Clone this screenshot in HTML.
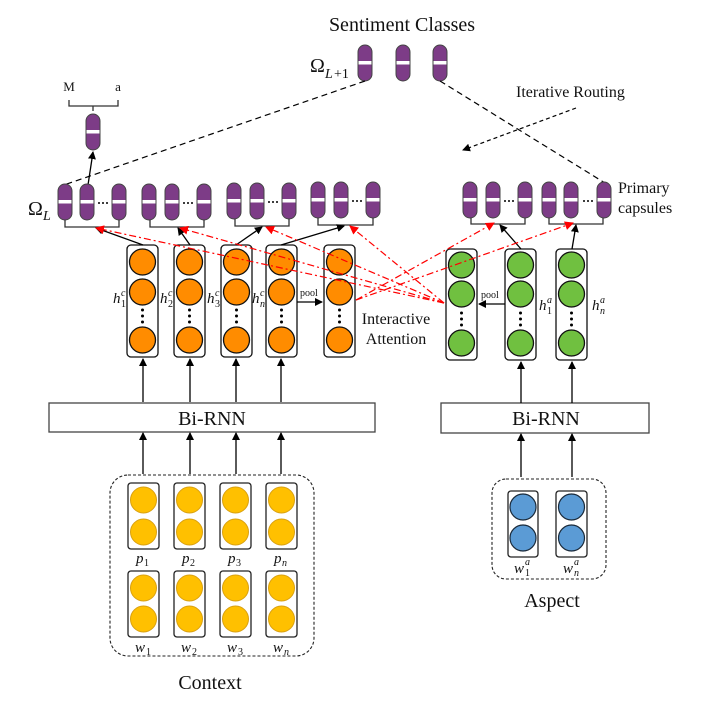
<!DOCTYPE html>
<html><head><meta charset="utf-8"><style>
html,body{margin:0;padding:0;background:#fff}
svg{display:block}
text{font-family:"Liberation Serif",serif;fill:#111}
.it{font-style:italic}
</style></head><body>
<svg width="722" height="701" viewBox="0 0 722 701" xmlns="http://www.w3.org/2000/svg">
<defs>
<marker id="ah" markerWidth="8" markerHeight="8" refX="7" refY="4" orient="auto" markerUnits="userSpaceOnUse"><path d="M0,0 L8,4 L0,8 z" fill="#000"/></marker>
<marker id="rh" markerWidth="9" markerHeight="9" refX="8" refY="4.5" orient="auto" markerUnits="userSpaceOnUse"><path d="M0,0 L9,4.5 L0,9 z" fill="#f00"/></marker>
<g id="cap"><rect x="0" y="0" width="14" height="36" rx="7" fill="#7D3C87" stroke="#444" stroke-width="1"/><rect x="0.5" y="16" width="13" height="3.5" fill="#fff"/></g>
<g id="dots" fill="#000"><circle cx="0" cy="0" r="1.5"/><circle cx="0" cy="6" r="1.5"/><circle cx="0" cy="12" r="1.5"/></g>
<g id="hd" fill="#000"><circle cx="0" cy="0" r="1"/><circle cx="4" cy="0" r="1"/><circle cx="8" cy="0" r="1"/></g>
</defs>

<!-- Top -->
<text x="402" y="31" font-size="20" text-anchor="middle">Sentiment Classes</text>
<text x="310" y="72" font-size="20">Ω</text><text x="325" y="78" font-size="14" class="it">L</text><text x="334" y="78" font-size="14">+1</text>
<use href="#cap" x="358" y="45"/><use href="#cap" x="396" y="45"/><use href="#cap" x="433" y="45"/>

<text x="69" y="91" font-size="13" text-anchor="middle">M</text>
<text x="118" y="91" font-size="13" text-anchor="middle">a</text>
<path d="M69,100 V106 H118 V100 M93,106 V111" fill="none" stroke="#333" stroke-width="1.3"/>
<use href="#cap" x="86" y="114"/>
<line x1="88" y1="185" x2="93" y2="152" stroke="#000" stroke-width="1.3" marker-end="url(#ah)"/>

<line x1="365" y1="81" x2="64" y2="185" stroke="#000" stroke-width="1.2" stroke-dasharray="6,4"/>
<line x1="440" y1="81" x2="605" y2="183" stroke="#000" stroke-width="1.2" stroke-dasharray="6,4"/>
<text x="516" y="97" font-size="16">Iterative Routing</text>
<line x1="576" y1="108" x2="463" y2="150" stroke="#000" stroke-width="1.2" stroke-dasharray="4,3" marker-end="url(#ah)"/>

<!-- Omega L -->
<text x="28" y="215" font-size="20">Ω</text><text x="43" y="220" font-size="14" class="it">L</text>
<g>
<use href="#cap" x="58" y="184"/><use href="#cap" x="80" y="184"/><use href="#cap" x="112" y="184"/>
<use href="#cap" x="142" y="184"/><use href="#cap" x="165" y="184"/><use href="#cap" x="197" y="184"/>
<use href="#cap" x="227" y="183"/><use href="#cap" x="250" y="183"/><use href="#cap" x="282" y="183"/>
<use href="#cap" x="311" y="182"/><use href="#cap" x="334" y="182"/><use href="#cap" x="366" y="182"/>
<use href="#cap" x="463" y="182"/><use href="#cap" x="486" y="182"/><use href="#cap" x="518" y="182"/>
<use href="#cap" x="542" y="182"/><use href="#cap" x="564" y="182"/><use href="#cap" x="597" y="182"/>
</g>
<use href="#hd" x="99" y="203"/><use href="#hd" x="184" y="203"/><use href="#hd" x="269" y="202"/><use href="#hd" x="353" y="201"/>
<use href="#hd" x="505" y="201"/><use href="#hd" x="584" y="201"/>
<g fill="none" stroke="#333" stroke-width="1.3">
<path d="M65,220 V227 H119 V220"/><path d="M150,220 V227 H204 V220"/>
<path d="M235,219 V226 H289 V219"/><path d="M318,218 V225 H373 V218"/>
<path d="M471,218 V224 H525 V218"/><path d="M549,218 V224 H603 V218"/>
</g>
<text x="618" y="193" font-size="16">Primary</text>
<text x="618" y="213" font-size="16">capsules</text>

<!-- columns -->
<g stroke="#111" stroke-width="1.3">
<g fill="none">
<rect x="127" y="245" width="31" height="112" rx="4"/><rect x="174" y="245" width="31" height="112" rx="4"/>
<rect x="221" y="245" width="31" height="112" rx="4"/><rect x="266" y="245" width="31" height="112" rx="4"/>
<rect x="324" y="245" width="31" height="112" rx="4"/>
<rect x="446" y="249" width="31" height="111" rx="4"/><rect x="505" y="249" width="31" height="111" rx="4"/>
<rect x="556" y="249" width="31" height="111" rx="4"/>
</g>
<g fill="#FF8C00">
<circle cx="142.5" cy="262" r="13"/><circle cx="142.5" cy="292" r="13"/><circle cx="142.5" cy="340" r="13"/>
<circle cx="189.5" cy="262" r="13"/><circle cx="189.5" cy="292" r="13"/><circle cx="189.5" cy="340" r="13"/>
<circle cx="236.5" cy="262" r="13"/><circle cx="236.5" cy="292" r="13"/><circle cx="236.5" cy="340" r="13"/>
<circle cx="281.5" cy="262" r="13"/><circle cx="281.5" cy="292" r="13"/><circle cx="281.5" cy="340" r="13"/>
<circle cx="339.5" cy="262" r="13"/><circle cx="339.5" cy="292" r="13"/><circle cx="339.5" cy="340" r="13"/>
</g>
<g fill="#70C040">
<circle cx="461.5" cy="265" r="13"/><circle cx="461.5" cy="294" r="13"/><circle cx="461.5" cy="343" r="13"/>
<circle cx="520.5" cy="265" r="13"/><circle cx="520.5" cy="294" r="13"/><circle cx="520.5" cy="343" r="13"/>
<circle cx="571.5" cy="265" r="13"/><circle cx="571.5" cy="294" r="13"/><circle cx="571.5" cy="343" r="13"/>
</g>
</g>
<use href="#dots" x="142.5" y="310"/><use href="#dots" x="189.5" y="310"/><use href="#dots" x="236.5" y="310"/>
<use href="#dots" x="281.5" y="310"/><use href="#dots" x="339.5" y="310"/>
<use href="#dots" x="461.5" y="313"/><use href="#dots" x="520.5" y="313"/><use href="#dots" x="571.5" y="313"/>
<g font-size="15" class="it">
<text x="113" y="303">h</text><text x="121" y="296" font-size="10">c</text><text x="121" y="307" font-size="10" font-style="normal">1</text>
<text x="160" y="303">h</text><text x="168" y="296" font-size="10">c</text><text x="168" y="307" font-size="10" font-style="normal">2</text>
<text x="207" y="303">h</text><text x="215" y="296" font-size="10">c</text><text x="215" y="307" font-size="10" font-style="normal">3</text>
<text x="252" y="303">h</text><text x="260" y="296" font-size="10">c</text><text x="260" y="307" font-size="10">n</text>
<text x="539" y="310">h</text><text x="547" y="303" font-size="10">a</text><text x="547" y="314" font-size="10" font-style="normal">1</text>
<text x="592" y="310">h</text><text x="600" y="303" font-size="10">a</text><text x="600" y="314" font-size="10">n</text>
</g>
<text x="300" y="296" font-size="10">pool</text>
<line x1="297" y1="302" x2="322" y2="302" stroke="#000" stroke-width="1.3" marker-end="url(#ah)"/>
<text x="481" y="298" font-size="10">pool</text>
<line x1="505" y1="304" x2="479" y2="304" stroke="#000" stroke-width="1.3" marker-end="url(#ah)"/>
<text x="396" y="324" font-size="16" text-anchor="middle">Interactive</text>
<text x="396" y="344" font-size="16" text-anchor="middle">Attention</text>

<!-- black arrows to brackets -->
<g stroke="#000" stroke-width="1.3" marker-end="url(#ah)">
<line x1="143" y1="245" x2="96" y2="228"/>
<line x1="190" y1="245" x2="178" y2="228"/>
<line x1="236" y1="245" x2="262" y2="227"/>
<line x1="281" y1="245" x2="344" y2="226"/>
<line x1="521" y1="249" x2="500" y2="225"/>
<line x1="572" y1="249" x2="576" y2="225"/>
</g>
<!-- red attention lines -->
<g stroke="#f00" stroke-width="1.2" stroke-dasharray="7,3,2,3" fill="none" marker-end="url(#rh)">
<line x1="444" y1="303" x2="96" y2="228"/>
<line x1="444" y1="303" x2="180" y2="228"/>
<line x1="444" y1="303" x2="266" y2="227"/>
<line x1="444" y1="303" x2="350" y2="226"/>
<line x1="356" y1="300" x2="494" y2="223"/>
<line x1="356" y1="300" x2="573" y2="223"/>
</g>

<!-- Bi-RNN -->
<rect x="49" y="403" width="326" height="29" fill="#fff" stroke="#444" stroke-width="1.3"/>
<text x="212" y="425" font-size="20" text-anchor="middle">Bi-RNN</text>
<rect x="441" y="403" width="208" height="30" fill="#fff" stroke="#444" stroke-width="1.3"/>
<text x="546" y="425" font-size="20" text-anchor="middle">Bi-RNN</text>
<g stroke="#000" stroke-width="1.3" marker-end="url(#ah)">
<line x1="143" y1="402" x2="143" y2="359"/><line x1="190" y1="402" x2="190" y2="359"/>
<line x1="236" y1="402" x2="236" y2="359"/><line x1="281" y1="402" x2="281" y2="359"/>
<line x1="521" y1="403" x2="521" y2="362"/><line x1="572" y1="403" x2="572" y2="362"/>
<line x1="143" y1="474" x2="143" y2="433"/><line x1="190" y1="474" x2="190" y2="433"/>
<line x1="236" y1="474" x2="236" y2="433"/><line x1="281" y1="474" x2="281" y2="433"/>
<line x1="521" y1="477" x2="521" y2="434"/><line x1="572" y1="477" x2="572" y2="434"/>
</g>

<!-- Context -->
<rect x="110" y="475" width="204" height="181" rx="18" fill="none" stroke="#222" stroke-width="1.1" stroke-dasharray="3,2"/>
<g stroke="#222" stroke-width="1.3" fill="none">
<rect x="128" y="483" width="31" height="66" rx="3"/><rect x="174" y="483" width="31" height="66" rx="3"/>
<rect x="220" y="483" width="31" height="66" rx="3"/><rect x="266" y="483" width="31" height="66" rx="3"/>
<rect x="128" y="571" width="31" height="66" rx="3"/><rect x="174" y="571" width="31" height="66" rx="3"/>
<rect x="220" y="571" width="31" height="66" rx="3"/><rect x="266" y="571" width="31" height="66" rx="3"/>
</g>
<g fill="#FFC000" stroke="#D9A010" stroke-width="1">
<circle cx="143.5" cy="500" r="13"/><circle cx="143.5" cy="532" r="13"/><circle cx="189.5" cy="500" r="13"/><circle cx="189.5" cy="532" r="13"/>
<circle cx="235.5" cy="500" r="13"/><circle cx="235.5" cy="532" r="13"/><circle cx="281.5" cy="500" r="13"/><circle cx="281.5" cy="532" r="13"/>
<circle cx="143.5" cy="588" r="13"/><circle cx="143.5" cy="619" r="13"/><circle cx="189.5" cy="588" r="13"/><circle cx="189.5" cy="619" r="13"/>
<circle cx="235.5" cy="588" r="13"/><circle cx="235.5" cy="619" r="13"/><circle cx="281.5" cy="588" r="13"/><circle cx="281.5" cy="619" r="13"/>
</g>
<g font-size="15" class="it">
<text x="136" y="563">p</text><text x="144" y="566" font-size="10" font-style="normal">1</text>
<text x="182" y="563">p</text><text x="190" y="566" font-size="10" font-style="normal">2</text>
<text x="228" y="563">p</text><text x="236" y="566" font-size="10" font-style="normal">3</text>
<text x="274" y="563">p</text><text x="282" y="566" font-size="10">n</text>
<text x="135" y="652">w</text><text x="146" y="655" font-size="10" font-style="normal">1</text>
<text x="181" y="652">w</text><text x="192" y="655" font-size="10" font-style="normal">2</text>
<text x="227" y="652">w</text><text x="238" y="655" font-size="10" font-style="normal">3</text>
<text x="273" y="652">w</text><text x="284" y="655" font-size="10">n</text>
</g>
<text x="210" y="689" font-size="20" text-anchor="middle">Context</text>

<!-- Aspect -->
<rect x="492" y="479" width="114" height="100" rx="14" fill="none" stroke="#222" stroke-width="1.1" stroke-dasharray="3,2"/>
<g stroke="#222" stroke-width="1.3" fill="none">
<rect x="508" y="491" width="30" height="66" rx="3"/><rect x="556" y="491" width="31" height="66" rx="3"/>
</g>
<g fill="#5B9BD5" stroke="#1a2a3a" stroke-width="1.2">
<circle cx="523" cy="507" r="13"/><circle cx="523" cy="538" r="13"/>
<circle cx="571.5" cy="507" r="13"/><circle cx="571.5" cy="538" r="13"/>
</g>
<g font-size="15" class="it">
<text x="514" y="573">w</text><text x="525" y="565" font-size="10">a</text><text x="525" y="576" font-size="10" font-style="normal">1</text>
<text x="563" y="573">w</text><text x="574" y="565" font-size="10">a</text><text x="574" y="576" font-size="10">n</text>
</g>
<text x="552" y="607" font-size="20" text-anchor="middle">Aspect</text>
</svg>
</body></html>
